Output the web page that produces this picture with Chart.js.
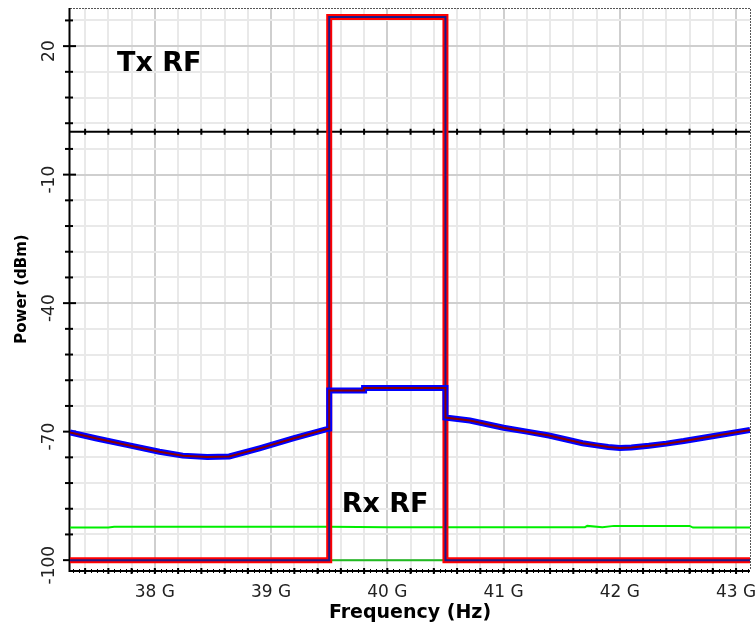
<!DOCTYPE html>
<html>
<head>
<meta charset="utf-8">
<title>Tx RF / Rx RF</title>
<script src="https://cdn.jsdelivr.net/npm/chart.js"></script>
<style>
  body { margin: 0; background: #fff; }
  #wrapper { width: 755px; height: 624px; }
</style>
</head>
<body>
<div id="wrapper"><canvas id="spectrumChart" width="755" height="624"></canvas></div>
<script>
// Frequenze in GHz, potenze in dBm
let txFreq = [37.27, 39.5, 39.5, 40.5, 40.5, 43.12];
let txPower = [-100, -100, 26.8, 26.8, -100, -100];

let rxFreq = [37.27, 37.5, 37.76, 38.04, 38.24, 38.45, 38.64, 38.9, 39.19, 39.48, 39.5, 39.5, 39.8, 39.8, 40.5, 40.5, 40.71, 41.0, 41.2, 41.39, 41.55, 41.68, 41.8, 41.9, 42.0, 42.1, 42.25, 42.4, 42.55, 42.68, 42.9, 43.12];
let rxPower = [-70.2, -71.6, -73.1, -74.7, -75.6, -75.9, -75.8, -73.9, -71.6, -69.4, -69.3, -60.4, -60.4, -59.8, -59.8, -66.7, -67.4, -69.1, -70.0, -70.9, -71.9, -72.7, -73.2, -73.6, -73.8, -73.7, -73.3, -72.8, -72.2, -71.6, -70.6, -69.6];

let noiseFreq = [37.27, 37.6, 37.65, 39.5, 40.0, 41.7, 41.72, 41.85, 41.95, 42.6, 42.63, 43.12];
let noisePower = [-92.4, -92.4, -92.2, -92.2, -92.3, -92.3, -92.0, -92.3, -92.0, -92.0, -92.4, -92.4];

let floorFreq = [37.27, 43.12];
let floorPower = [-100, -100];

// Etichette degli assi
let xLabelValues = [38, 39, 40, 41, 42, 43];
let xLabelTexts = ['38 G', '39 G', '40 G', '41 G', '42 G', '43 G'];
let yLabelValues = [20, -10, -40, -70, -100];
let yGridValues = [26, 20, 14, 8, 2, -4, -10, -16, -22, -28, -34, -40, -46, -52, -58, -64, -70, -76, -82, -88, -94, -100];

// Scritte dentro il grafico
let notes = [
  { text: 'Tx RF', freq: 37.674, power: 14.2 },
  { text: 'Rx RF', freq: 39.607, power: -88.7 }
];

// Griglia x ogni 0.2 GHz
let xGridValues = [];
for (let i = 0; i <= 28; i++) {
  xGridValues.push(Math.round((37.4 + 0.2 * i) * 10) / 10);
}

function toPoints(xs, ys) {
  return xs.map((x, i) => ({ x: x, y: ys[i] }));
}

// Niente spazio extra per le etichette che sbordano
function noPadding(scale) {
  scale.paddingLeft = 0;
  scale.paddingRight = 0;
  scale.paddingTop = 0;
  scale.paddingBottom = 0;
}

// Disegna assi neri, linea dello zero e bordo tratteggiato
const framePlugin = {
  id: 'frame',
  beforeDatasetsDraw(chart) {
    let ctx = chart.ctx;
    let area = chart.chartArea;
    let xs = chart.scales.x;
    let ys = chart.scales.y;
    ctx.save();

    ctx.strokeStyle = '#555';
    ctx.lineWidth = 1;
    ctx.setLineDash([2, 1]);
    ctx.beginPath();
    ctx.moveTo(area.left, area.top + 0.5);
    ctx.lineTo(area.right + 0.5, area.top + 0.5);
    ctx.lineTo(area.right + 0.5, area.bottom);
    ctx.stroke();
    ctx.setLineDash([]);

    ctx.strokeStyle = '#000';
    ctx.lineWidth = 2;
    ctx.beginPath();
    ctx.moveTo(area.left - 0.5, area.top);
    ctx.lineTo(area.left - 0.5, area.bottom + 1);
    ctx.lineTo(area.right, area.bottom + 1);
    ctx.stroke();

    let y0 = ys.getPixelForValue(0);
    ctx.beginPath();
    ctx.moveTo(area.left, y0);
    ctx.lineTo(area.right, y0);
    ctx.stroke();

    // tacche asse y
    ys.ticks.forEach(t => {
      let py = ys.getPixelForValue(t.value);
      let big = yLabelValues.includes(t.value);
      ctx.beginPath();
      ctx.moveTo(area.left - (big ? 7 : 5), py);
      ctx.lineTo(area.left + (big ? 6 : 3), py);
      ctx.stroke();
    });

    // tacche sulla linea dello zero e sull'asse x
    xs.ticks.forEach(t => {
      let px = xs.getPixelForValue(t.value);
      ctx.beginPath();
      ctx.moveTo(px, y0 - 3);
      ctx.lineTo(px, y0 + 3);
      ctx.moveTo(px, area.bottom - 2);
      ctx.lineTo(px, area.bottom + 4);
      ctx.stroke();
    });

    ctx.lineWidth = 1;
    ctx.beginPath();
    for (let f = 37.3; f < xs.max; f += 0.05) {
      let px = Math.round(xs.getPixelForValue(f)) + 0.5;
      ctx.moveTo(px, area.bottom - 1);
      ctx.lineTo(px, area.bottom + 3);
    }
    ctx.stroke();
    ctx.restore();
  },
  afterDatasetsDraw(chart) {
    let ctx = chart.ctx;
    let xs = chart.scales.x;
    let ys = chart.scales.y;
    ctx.save();
    ctx.font = 'bold 27px "DejaVu Sans"';
    ctx.fillStyle = '#000';
    ctx.textBaseline = 'alphabetic';
    notes.forEach(n => {
      ctx.fillText(n.text, xs.getPixelForValue(n.freq), ys.getPixelForValue(n.power));
    });
    ctx.restore();
  }
};

new Chart(document.getElementById('spectrumChart'), {
  type: 'line',
  data: {
    datasets: [
      { data: toPoints(rxFreq, rxPower), borderColor: '#8b0000', borderWidth: 2, order: 1 },
      { data: toPoints(rxFreq, rxPower), borderColor: '#0000ff', borderWidth: 6, order: 2 },
      { data: toPoints(txFreq, txPower), borderColor: '#1a1a8c', borderWidth: 2, order: 3 },
      { data: toPoints(txFreq, txPower), borderColor: '#ff0000', borderWidth: 6, order: 4 },
      { data: toPoints(noiseFreq, noisePower), borderColor: '#00ee00', borderWidth: 2, order: 5 },
      { data: toPoints(floorFreq, floorPower), borderColor: '#22bb22', borderWidth: 2, order: 6 }
    ]
  },
  options: {
    responsive: false,
    animation: false,
    events: [],
    layout: { padding: { top: 8, right: 5, left: 0, bottom: 0 } },
    elements: {
      point: { radius: 0 },
      line: { tension: 0, fill: false, borderJoinStyle: 'miter' }
    },
    plugins: {
      legend: { display: false },
      tooltip: { enabled: false }
    },
    scales: {
      x: {
        type: 'linear',
        min: 37.27,
        max: 43.12,
        afterBuildTicks(scale) {
          scale.ticks = xGridValues.map(v => ({ value: v }));
        },
        afterFit(scale) {
          scale.height = 54;
          noPadding(scale);
        },
        border: { display: false },
        grid: {
          drawTicks: false,
          lineWidth: 2,
          color: c => xLabelValues.includes(c.tick && c.tick.value) ? '#cfcfcf' : '#e9e9e9'
        },
        ticks: {
          autoSkip: false,
          maxRotation: 0,
          minRotation: 0,
          padding: 12,
          color: '#222',
          font: { family: 'DejaVu Sans', size: 17 },
          callback: value => {
            let i = xLabelValues.indexOf(value);
            return i >= 0 ? xLabelTexts[i] : '';
          }
        },
        title: {
          display: true,
          text: 'Frequency (Hz)',
          color: '#000',
          font: { family: 'DejaVu Sans', size: 19, weight: 'bold' },
          padding: { top: 0, bottom: 0 }
        }
      },
      y: {
        type: 'linear',
        min: -102.3,
        max: 28.9,
        afterBuildTicks(scale) {
          scale.ticks = yGridValues.map(v => ({ value: v }));
        },
        afterFit(scale) {
          scale.width = 70;
          noPadding(scale);
        },
        border: { display: false },
        grid: {
          drawTicks: false,
          lineWidth: 2,
          color: c => yLabelValues.includes(c.tick && c.tick.value) ? '#cfcfcf' : '#e9e9e9'
        },
        ticks: {
          autoSkip: false,
          minRotation: 90,
          maxRotation: 90,
          crossAlign: 'center',
          padding: 1,
          labelOffset: 5,
          color: '#222',
          font: { family: 'DejaVu Sans', size: 17 },
          callback: value => yLabelValues.includes(value) ? String(value) : ''
        },
        title: {
          display: true,
          text: 'Power (dBm)',
          color: '#000',
          font: { family: 'DejaVu Sans', size: 15, weight: 'bold' },
          padding: { top: 13, bottom: 0 }
        }
      }
    }
  },
  plugins: [framePlugin]
});
</script>
</body>
</html>
